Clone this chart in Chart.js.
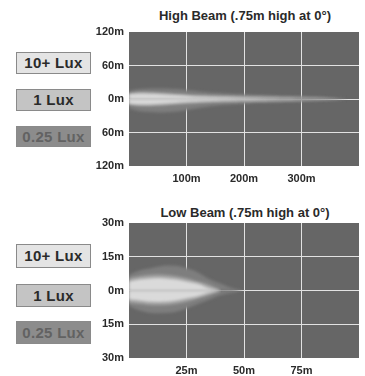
<!DOCTYPE html>
<html>
<head>
<meta charset="utf-8">
<script src="https://cdn.jsdelivr.net/npm/chart.js@4"></script>
<style>
  body { margin: 0; background: #fff; width: 365px; height: 376px; position: relative; overflow: hidden;
         font-family: "Liberation Sans", Arial, sans-serif; }
  canvas { position: absolute; }
  .title { position: absolute; width: 240px; left: 125px; text-align: center; font-weight: bold; font-size: 13px; color: #2a2a2a; }
  .lux { position: absolute; left: 16px; width: 73px; border: 1px solid #8a8a8a; box-sizing: content-box;
         text-align: center; font-weight: bold; font-size: 15px; letter-spacing: 0.3px; }
</style>
</head>
<body>
<div class="title" style="top:8px">High Beam (.75m high at 0°)</div>
<div class="title" style="top:205px">Low Beam (.75m high at 0°)</div>

<div class="lux" style="top:52px;height:20px;line-height:20px;background:#e4e4e4;color:#2a2a2a">10+ Lux</div>
<div class="lux" style="top:89px;height:20px;line-height:20px;background:#c4c4c4;color:#2a2a2a">1 Lux</div>
<div class="lux" style="top:126px;height:19px;line-height:19px;background:#8c8c8c;color:#626262">0.25 Lux</div>
<div class="lux" style="top:244px;height:22px;line-height:22px;background:#e4e4e4;color:#2a2a2a">10+ Lux</div>
<div class="lux" style="top:284px;height:21px;line-height:21px;background:#c4c4c4;color:#2a2a2a">1 Lux</div>
<div class="lux" style="top:321px;height:21px;line-height:21px;background:#8c8c8c;color:#626262">0.25 Lux</div>

<canvas id="highChart" width="270" height="170" style="left:95px;top:20px"></canvas>
<canvas id="lowChart" width="270" height="168" style="left:95px;top:208px"></canvas>

<script>
// high beam, distances in m and half-widths of each lux contour
const highDist = [0, 20, 50, 80, 110, 150, 200, 250, 300, 350, 380];
const high025Up = [15, 18, 19, 18, 15, 11, 8, 6, 4, 2, 0];
const high025Down = [-17, -22, -24, -23, -18, -12, -8, -6, -4, -2, 0];
const high1Up = [10, 12, 11, 9, 7, 6, 5, 4, 3, 1.5, 0];
const high1Down = [-10, -12, -12, -10, -8, -6, -5, -4, -3, -1.5, 0];
const high10Up = [9, 10, 9, 7, 5, 3.5, 2, 0.8, 0, null, null];
const high10Down = [-9, -10, -9, -7, -5, -3.5, -2, -0.8, 0, null, null];
const highXTicks = [100, 200, 300];

// low beam
const lowDist = [0, 5, 10, 15, 20, 25, 30, 35, 40, 45, 50];
const low025Up = [7, 9, 10, 11, 11, 10, 8, 5, 3, 1, 0];
const low025Down = [-7, -9, -10, -10, -9.5, -8, -6, -4, -2, -1, 0];
const low1Up = [5.5, 6.5, 7, 7, 6.5, 5.5, 4, 2.5, 0, null, null];
const low1Down = [-5.5, -6, -6.5, -6.5, -6, -5, -3.5, -2, 0, null, null];
const low10Up = [4, 5, 5.5, 5.5, 5, 4, 3, 1, 0, null, null];
const low10Down = [-4, -4.5, -5, -5, -4.5, -3.5, -2.5, -1, 0, null, null];
const lowXTicks = [25, 50, 75];

const shades = { lux10: '#dadada', lux1: '#a2a2a2', lux025: '#7e7e7e' };

function pts(xs, ys) {
  return xs.map((x, i) => ({ x: x, y: ys[i] }));
}

function band(xs, ys, color) {
  return {
    data: pts(xs, ys),
    borderWidth: 0,
    pointRadius: 0,
    tension: 0.4,
    backgroundColor: color,
    fill: 'origin',
    spanGaps: false
  };
}

const bgPlugin = {
  id: 'plotBg',
  beforeDraw(chart) {
    const a = chart.chartArea, ctx = chart.ctx;
    ctx.save();
    ctx.fillStyle = '#666666';
    ctx.fillRect(a.left, a.top, a.right - a.left, a.bottom - a.top);
    ctx.restore();
  },
  beforeDatasetsDraw(chart) {
    chart.ctx.save();
    chart.ctx.filter = 'blur(1.5px)';
  },
  afterDatasetsDraw(chart) {
    chart.ctx.restore();
  }
};

const tickFont = { family: '"Liberation Sans", Arial, sans-serif', size: 11, weight: 'bold' };

function makeChart(id, datasets, xMax, xTicks, yMax, yStep, padTop, padBottom, xHeight) {
  return new Chart(document.getElementById(id).getContext('2d'), {
    type: 'line',
    data: { datasets: datasets },
    plugins: [bgPlugin],
    options: {
      responsive: false,
      animation: false,
      events: [],
      layout: { padding: { top: padTop, right: 6, bottom: padBottom, left: 0 } },
      plugins: { legend: { display: false }, tooltip: { enabled: false } },
      scales: {
        x: {
          type: 'linear', min: 0, max: xMax, z: 1,
          afterBuildTicks: s => { s.ticks = [0].concat(xTicks, [xMax]).map(v => ({ value: v })); },
          afterFit: s => { s.height = xHeight; },
          border: { display: false },
          grid: {
            drawTicks: false, lineWidth: 1,
            color: c => (c.tick.value === 0 || c.tick.value === xMax) ? 'rgba(0,0,0,0)' : '#e2e2e2'
          },
          ticks: {
            padding: 6, color: '#2a2a2a', font: tickFont, maxRotation: 0,
            callback: v => (v === 0 || v === xMax) ? '' : v + 'm'
          }
        },
        y: {
          type: 'linear', min: -yMax, max: yMax, z: 1,
          afterFit: s => { s.width = 34; },
          border: { display: false },
          grid: {
            drawTicks: false, lineWidth: 1,
            color: c => Math.abs(c.tick.value) === yMax ? 'rgba(0,0,0,0)' : '#e2e2e2'
          },
          ticks: {
            stepSize: yStep, padding: 5, color: '#2a2a2a', font: tickFont,
            callback: v => Math.abs(v) + 'm'
          }
        }
      }
    }
  });
}

makeChart('highChart', [
  band(highDist, high10Up, shades.lux10),
  band(highDist, high10Down, shades.lux10),
  band(highDist, high1Up, shades.lux1),
  band(highDist, high1Down, shades.lux1),
  band(highDist, high025Up, shades.lux025),
  band(highDist, high025Down, shades.lux025)
], 400, highXTicks, 120, 60, 12, 2, 22);

makeChart('lowChart', [
  band(lowDist, low10Up, shades.lux10),
  band(lowDist, low10Down, shades.lux10),
  band(lowDist, low1Up, shades.lux1),
  band(lowDist, low1Down, shades.lux1),
  band(lowDist, low025Up, shades.lux025),
  band(lowDist, low025Down, shades.lux025)
], 100, lowXTicks, 30, 15, 15, 0, 18);
</script>
</body>
</html>
